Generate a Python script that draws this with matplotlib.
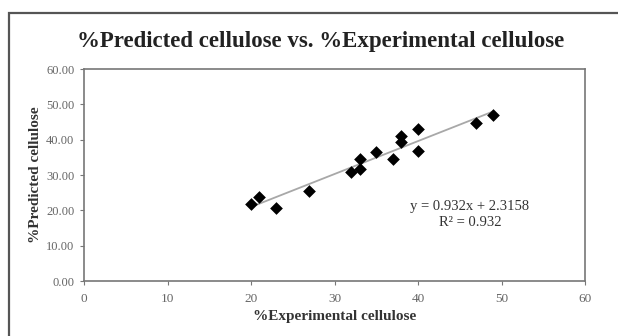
import matplotlib
matplotlib.use("Agg")
import matplotlib.pyplot as plt
from matplotlib.patches import Rectangle
import numpy as np

# Measured vs. predicted cellulose content (%)
experimental = [20, 21, 23, 27, 32, 33, 33, 35, 37, 38, 38, 40, 40, 47, 49]
predicted = [21.7, 23.7, 20.7, 25.4, 30.9, 31.7, 34.6, 36.6, 34.5, 40.9, 39.2, 43.0, 36.9, 44.8, 47.0]

slope = 0.932
intercept = 2.3158
r_squared = 0.932

x_ticks = [0, 10, 20, 30, 40, 50, 60]
y_ticks = [0, 10, 20, 30, 40, 50, 60]

plt.rcParams['font.family'] = ['Liberation Serif', 'DejaVu Serif']

fig = plt.figure(figsize=(6.18, 3.36), dpi=100)
fig.patch.set_facecolor('white')

# outer chart border
fig.patches.append(Rectangle((8.5 / 618, -0.1), 1.2, 1.1 - 13 / 336,
                             transform=fig.transFigure, fill=False,
                             edgecolor='#555555', linewidth=1.6, zorder=0))

ax = fig.add_axes([84 / 618, 55 / 336, 501 / 618, 212 / 336])

ax.scatter(experimental, predicted, marker='D', s=42, color='black', zorder=3,
           linewidths=0)

xfit = np.array([min(experimental), max(experimental)])
ax.plot(xfit, slope * xfit + intercept, color='#a8a8a8', linewidth=1.3, zorder=2)

ax.set_xlim(0, 60)
ax.set_ylim(0, 60)
ax.set_xticks(x_ticks)
ax.set_yticks(y_ticks)
ax.set_xticklabels([str(v) for v in x_ticks])
ax.set_yticklabels([f"{v:.2f}" for v in y_ticks])
ax.tick_params(axis='both', direction='out', length=3, width=0.8,
               color='#777777', labelsize=9, labelcolor='#666666', pad=4)
ax.tick_params(axis='x', pad=6, labelsize=9.5)
for sp in ax.spines.values():
    sp.set_color('#777777')
    sp.set_linewidth(1.2)

ax.set_xlabel('%Experimental cellulose', fontsize=11, fontweight='bold',
              color='#333333', labelpad=3)
ax.set_ylabel('%Predicted cellulose', fontsize=11, fontweight='bold',
              color='#333333', labelpad=3)

ax.text(46.2, 18.8, f"y = {slope}x + {intercept}\nR\u00b2 = {r_squared}",
        ha='center', va='center', fontsize=10.5, color='#333333',
        linespacing=1.25)

fig.text(321 / 618, 1 - 41 / 336, '%Predicted cellulose vs. %Experimental cellulose',
         ha='center', va='center', fontsize=16.5, fontweight='bold', color='#222222')

fig.savefig('out.png', dpi=100)
